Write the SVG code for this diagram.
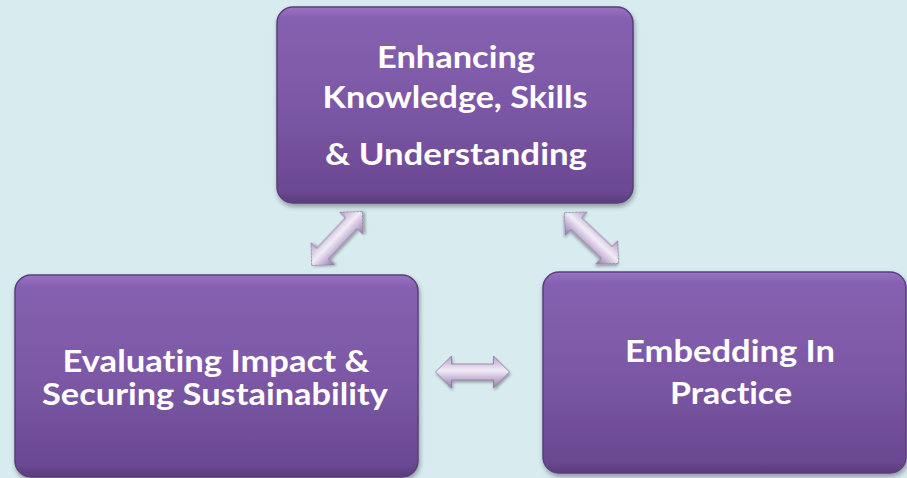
<svg xmlns="http://www.w3.org/2000/svg" width="907" height="478" viewBox="0 0 907 478">
<defs>
<linearGradient id="boxg" x1="0" y1="0" x2="0" y2="1">
<stop offset="0" stop-color="#9a72c4"/>
<stop offset="0.06" stop-color="#8660b0"/>
<stop offset="0.5" stop-color="#7c58a6"/>
<stop offset="0.94" stop-color="#6b4892"/>
<stop offset="1" stop-color="#5a3c7c"/>
</linearGradient>
<linearGradient id="arrg" x1="0" y1="0" x2="0" y2="1">
<stop offset="0" stop-color="#b3a0c6"/>
<stop offset="0.45" stop-color="#f2ecf7"/>
<stop offset="0.6" stop-color="#d9cce5"/>
<stop offset="1" stop-color="#8f7aa6"/>
</linearGradient>
<filter id="sh" x="-10%" y="-10%" width="120%" height="125%">
<feDropShadow dx="1" dy="3" stdDeviation="2.5" flood-color="#000" flood-opacity="0.35"/>
</filter>
<filter id="ash" x="-30%" y="-30%" width="160%" height="160%">
<feDropShadow dx="1" dy="2" stdDeviation="1.5" flood-color="#000" flood-opacity="0.35"/>
</filter>
<path id="darrow" d="M -37 0 L -21 -16 L -21 -8 L 21 -8 L 21 -16 L 37 0 L 21 16 L 21 8 L -21 8 L -21 16 Z"/>
</defs>
<style>
.box{fill:url(#boxg);stroke:#5b3d7d;stroke-width:1.5;filter:url(#sh)}
.lbl{font-family:Lato,"Open Sans","Liberation Sans",sans-serif;font-weight:bold;font-size:30px;fill:#ffffff;text-anchor:middle;font-variant-ligatures:none}
.arr{fill:url(#arrg);stroke:#8a76a0;stroke-width:0.8;filter:url(#ash)}
</style>
<rect width="907" height="478" fill="#d8ecf0"/>
<g id="connectors">
<use href="#darrow" class="arr" transform="translate(337 238.5) rotate(-46.7)"/>
<use href="#darrow" class="arr" transform="translate(591.5 238) rotate(43.3)"/>
<use href="#darrow" class="arr" transform="translate(472.5 372)"/>
</g>
<g id="node-enhancing">
<rect class="box" x="277" y="7" width="356" height="196" rx="16"/>
<text class="lbl" x="456" y="68" textLength="158" lengthAdjust="spacingAndGlyphs">Enhancing</text>
<text class="lbl" x="455" y="108" textLength="265" lengthAdjust="spacingAndGlyphs">Knowledge, Skills</text>
<text class="lbl" x="456" y="165" textLength="262" lengthAdjust="spacingAndGlyphs">&amp; Understanding</text>
</g>
<g id="node-evaluating">
<rect class="box" x="15" y="275" width="403" height="202" rx="16"/>
<text class="lbl" x="216" y="372" textLength="307" lengthAdjust="spacingAndGlyphs">Evaluating Impact &amp;</text>
<text class="lbl" x="215" y="405" textLength="346" lengthAdjust="spacingAndGlyphs">Securing Sustainability</text>
</g>
<g id="node-embedding">
<rect class="box" x="543" y="272" width="363" height="201" rx="16"/>
<text class="lbl" x="730" y="362" textLength="210" lengthAdjust="spacingAndGlyphs">Embedding In</text>
<text class="lbl" x="731" y="404" textLength="122" lengthAdjust="spacingAndGlyphs">Practice</text>
</g>
</svg>
